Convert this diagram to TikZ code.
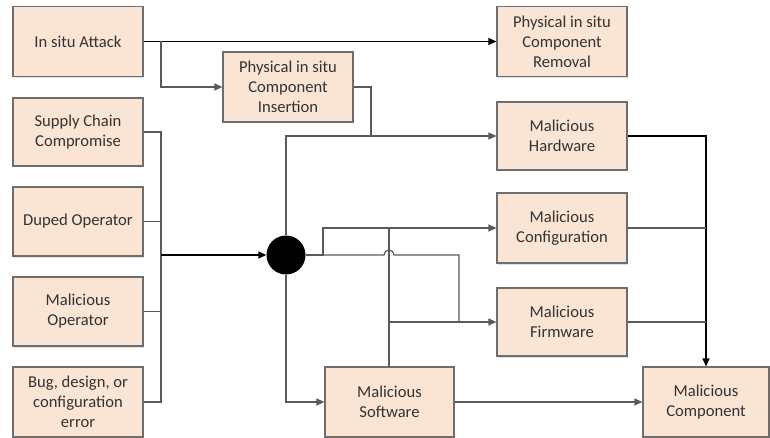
\documentclass[tikz,border=0pt]{standalone}
\usepackage{fontspec}
\setmainfont{Carlito}
\usetikzlibrary{arrows.meta,shadows}
\definecolor{boxfill}{HTML}{FAE4D4}
\definecolor{boxline}{HTML}{6E6E6E}
\definecolor{linec}{HTML}{5A5A5A}
\definecolor{textc}{HTML}{333333}
\begin{document}
\begin{tikzpicture}[x=1pt,y=-1pt,
  box/.style={draw=boxline, fill=boxfill, line width=1.2pt, inner sep=0pt, align=center,
    font=\fontsize{16.6}{20}\selectfont, text=textc, minimum width=130pt, minimum height=70pt,
    drop shadow={shadow xshift=1pt, shadow yshift=-1.5pt, opacity=0.25}},
  ln/.style={draw=linec, line width=1.2pt},
  arr/.style={ln, -{Triangle[length=8pt,width=7pt]}}
]
\useasboundingbox (0,0) rectangle (770,438);

\node[box] (ia)   at (78,41.5)  {In situ Attack};
\node[box] (ins)  at (288,87)   {Physical in situ\\Component\\Insertion};
\node[box, minimum height=68pt] (sc) at (78,132) {Supply Chain\\Compromise};
\node[box, minimum height=69pt] (dup) at (78,221.5) {Duped Operator};
\node[box, minimum height=69pt] (mo)  at (78,311.5) {Malicious\\Operator};
\node[box] (bug)  at (78,402)   {Bug, design, or\\configuration\\error};
\node[box] (rem)  at (562,41.5) {Physical in situ\\Component\\Removal};
\node[box, minimum height=68pt] (hw)  at (562,136) {Malicious\\Hardware};
\node[box] (cfg)  at (562,228)  {Malicious\\Configuration};
\node[box, minimum height=68pt] (fw)  at (562,322) {Malicious\\Firmware};
\node[box, minimum width=129pt] (sw)  at (389.5,402) {Malicious\\Software};
\node[box, minimum width=126pt] (comp) at (706,402) {Malicious\\Component};

\node[circle, fill=black, minimum size=39pt, inner sep=0pt] (dot) at (286,255) {};

% named junctions
\coordinate (j1) at (161,41.5);
\coordinate (jl) at (161,255);
\coordinate (jins) at (371,136);
\coordinate (jr) at (323,255);
\coordinate (bumpL) at (384,255);
\coordinate (jfw) at (459,255);
\coordinate (swtop) at (389,367);
\coordinate (swcfg) at (389,228);
\coordinate (swfw) at (389,322);
\coordinate (fwj) at (459,322);
\coordinate (rc) at (706,228);
\coordinate (rf) at (706,322);

% top
\draw[arr, draw=black] (ia.east) -- (rem.west);
\draw[arr] (j1) |- (ins.west);
\draw[ln] (ins.east) -| (jins);
\draw[arr] (dot.north) |- (hw.west);

% left collectors
\draw[ln] (sc.east) -| (161,402) -- (bug.east);
\draw[ln] (dup.east) -- (161,221.5);
\draw[ln] (mo.east) -- (161,311.5);
\draw[arr, draw=black, line width=1.6pt] (jl) -- (dot.west);

% right of dot
\draw[arr] (dot.east) -- (jr) |- (cfg.west);
\draw[ln] (jr) -- (bumpL) arc[start angle=180, end angle=0, radius=5pt] -- (jfw) -- (fwj);
\draw[ln] (swtop) -- (swcfg);
\draw[arr] (swfw) -- (fw.west);

% bottom
\draw[arr] (dot.south) |- (sw.west);
\draw[arr] (sw.east) -- (comp.west);

% right collectors
\draw[arr, draw=black] (hw.east) -| (comp.north);
\draw[ln] (cfg.east) -- (rc);
\draw[ln] (fw.east) -- (rf);
\end{tikzpicture}
\end{document}
